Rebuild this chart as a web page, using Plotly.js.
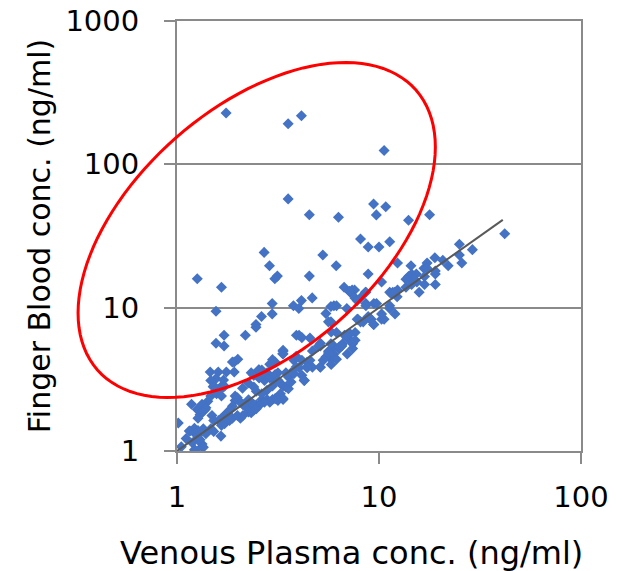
<!DOCTYPE html>
<html>
<head>
<meta charset="utf-8">
<script src="https://cdn.plot.ly/plotly-3.0.1.min.js"></script>
<style>html,body{margin:0;padding:0;background:#fff;}#chart{width:626px;height:571px;}</style>
</head>
<body>
<div id="chart"></div>
<script>
// Venous plasma concentration (ng/ml)
const venousPlasma = [
1.75,3.55,4.13,10.6,3.55,4.52,6.3,9.4,10.8,9.7,14.0,17.8,8.1,8.84,10.0,11.3,5.27,6.14,2.70,2.87,
3.14,3.05,4.52,1.26,1.66,1.56,2.96,2.96,2.62,2.46,2.46,2.18,1.71,1.56,1.71,3.77,4.13,4.01,4.67,6.72,
7.36,7.57,7.2,8.84,10.3,12.35,14.4,18.9,22.0,16.7,17.3,41.9,25.0,29.0,25.0,25.7,20.7,17.3,19.0,19.0,
14.5,15.3,16.8,15.4,16.8,19.0,15.8,14.3,14.0,14.9,13.6,14.5,8.61,8.1,8.61,8.61,9.43,9.72,5.98,6.16,
11.3,11.7,11.3,12.0,7.86,8.1,8.35,9.15,9.43,10.3,7.62,6.75,6.16,5.98,6.35,6.54,5.8,5.98,5.8,11.6,
12.3,10.6,8.95,7.4,7.4,6.6,5.46,5.78,5.78,7.14,3.90,4.02,4.55,5.13,3.35,5.62,5.8,6.16,6.96,6.96,
5.8,5.13,4.68,4.41,4.27,3.46,3.56,3.67,3.16,3.06,3.25,3.35,2.97,2.63,2.79,2.88,2.71,2.55,2.40,2.33,
2.47,2.63,2.79,2.97,3.35,2.33,2.40,2.33,2.47,1.015,1.46,1.60,1.755,1.92,1.92,1.51,1.65,1.56,1.70,1.18,
1.26,1.33,1.38,1.42,1.30,1.15,1.22,1.30,1.26,1.11,1.22,1.33,1.05,1.65,1.33,2.0,1.88,5.62,5.13,3.35,
3.06,2.55,1.27,1.35,1.39,1.47,1.52,1.57,1.66,1.72,1.47,1.57,1.66,1.94,1.94,1.99,1.88,2.06,2.12,2.19,
2.33,2.40,2.26,1.49,1.52,1.61,1.66,1.72,1.77,1.82,1.66,1.72,1.82,1.88,1.99,2.06,2.12,1.52,1.47,1.35,
1.39,1.30,1.23,1.19,1.35,1.23,1.16,1.27,2.55,2.71,2.88,3.06,3.16,2.79,2.63,2.40,3.46,3.25,3.06,2.88,
2.71,2.55,2.47,2.26,2.88,3.35,2.97,4.15,4.02,3.79,4.15,4.41,4.55,4.68,5.0,5.29,5.46,5.62,6.35,7.4,
7.62,7.2,5.8,4.15,3.56,3.35,3.16,3.56,3.67,3.79,2.11,2.25,2.54,3.34,3.89,3.89,4.39,4.26,5.11,6.93,
7.6,7.8,8.57,7.8,6.52,6.93,8.84,9.4,10.3,11.3,11.96,12.35,13.6,5.78
];
// Finger blood concentration (ng/ml)
const fingerBlood = [
228,192,218,125,57.4,44.5,42.7,52.9,50.6,44.4,40.7,44.5,30.1,26.5,26.5,28.8,23.3,19.6,24.3,19.6,
16.6,15.9,16.6,15.9,13.9,9.45,10.7,9.05,8.68,7.63,7.31,6.42,6.42,5.65,5.41,10.3,11.2,9.87,11.7,13.9,
13.3,13.3,12.8,17.2,15.1,20.5,19.6,22.3,19.6,18.8,20.5,32.8,27.7,25.4,23.3,20.5,21.4,18.8,18.0,17.2,
17.2,17.2,16.5,15.1,14.5,14.5,12.8,15.8,16.5,15.8,13.9,14.5,12.8,11.7,10.7,10.3,10.7,10.7,10.3,10.3,
12.8,12.8,9.87,9.05,8.31,7.96,7.96,8.31,7.63,8.31,6.71,6.42,6.71,5.41,5.18,5.41,4.96,4.75,4.36,12.4,
11.9,8.3,8.4,5.6,5.18,5.6,9.1,7.96,5.6,13.0,6.42,6.42,6.15,5.65,4.75,4.96,4.56,4.36,4.75,6.15,
4.01,3.84,3.84,4.18,3.10,3.52,3.37,3.52,3.52,3.10,2.97,2.84,2.84,3.67,3.52,3.23,3.10,3.23,3.37,3.52,
2.61,2.29,2.29,2.29,2.29,2.19,1.93,1.85,2.10,1.57,3.56,3.56,3.56,3.56,4.18,2.81,2.81,3.20,3.13,2.12,
1.95,2.12,1.95,2.22,1.79,1.38,1.44,1.33,1.22,1.22,1.02,1.07,1.07,1.27,1.12,4.36,4.18,7.96,5.41,4.96,
4.18,3.67,1.69,1.90,2.0,3.10,2.83,2.72,2.72,2.83,2.42,2.51,2.42,2.42,2.25,2.35,2.05,2.19,2.11,2.02,
1.94,2.11,2.28,1.77,1.63,1.63,1.69,1.77,1.85,1.92,1.51,1.55,1.63,1.69,1.77,1.69,1.77,1.37,1.43,1.43,
1.32,1.20,1.32,1.14,1.06,1.01,1.38,1.39,3.28,3.42,3.28,3.42,3.11,2.65,2.51,2.80,2.80,2.51,2.32,2.19,
2.19,2.08,1.97,1.87,4.03,5.04,4.34,6.18,3.81,4.29,4.29,3.81,4.29,4.99,5.38,4.29,4.53,4.82,5.31,5.71,
5.92,6.58,6.77,3.37,2.72,2.32,2.25,3.28,3.03,3.46,2.74,2.98,3.69,4.77,4.58,3.85,3.85,3.11,3.85,9.87,
11.7,11.2,12.8,8.31,5.41,6.42,8.68,7.63,9.05,10.3,12.8,13.3,15.8,10.2
];
// Line of identity
const identityX = [1, 41];
const identityY = [1, 41];
const xTickVals = [1, 10, 100];
const yTickVals = [1, 10, 100, 1000];

const W = 626, H = 571;
const M = {l: 177, r: 45, t: 21, b: 120};
const plotW = W - M.l - M.r, plotH = H - M.t - M.b;

// Highlight ellipse (pixel geometry)
const ell = {cx: 256.7, cy: 230, a: 212, b: 122.6, deg: 41.3, n: 120};
function ellipsePath() {
  const th = ell.deg * Math.PI / 180;
  let p = '';
  for (let i = 0; i <= ell.n; i++) {
    const t = 2 * Math.PI * i / ell.n;
    const ux = ell.a * Math.cos(t), uy = ell.b * Math.sin(t);
    const px = ell.cx + ux * Math.cos(th) - uy * Math.sin(th);
    const py = ell.cy - (ux * Math.sin(th) + uy * Math.cos(th));
    const xp = (px - M.l) / plotW;
    const yp = (H - M.b - py) / plotH;
    p += (i === 0 ? 'M' : 'L') + xp.toFixed(5) + ',' + yp.toFixed(5);
  }
  return p + 'Z';
}

const font = 'DejaVu Sans, Verdana, sans-serif';
const gray = '#8a8a8a';

const traces = [
  {x: venousPlasma, y: fingerBlood, type: 'scatter', mode: 'markers',
   marker: {symbol: 'diamond', size: 8.5, color: '#4472C4'}, hoverinfo: 'x+y'},
  {x: identityX, y: identityY, type: 'scatter', mode: 'lines',
   line: {color: '#595959', width: 2}, hoverinfo: 'skip'}
];

const layout = {
  width: W, height: H, margin: M, showlegend: false,
  paper_bgcolor: '#fff', plot_bgcolor: '#fff',
  font: {family: font, color: '#000'},
  xaxis: {type: 'log', range: [0, 2], tickvals: xTickVals, ticktext: xTickVals.map(String),
    ticks: 'outside', ticklen: 11, tickwidth: 2, tickcolor: gray,
    showline: true, linecolor: gray, linewidth: 2, mirror: true,
    showgrid: false, zeroline: false, ticklabelstandoff: 8,
    tickfont: {family: font, size: 29, color: '#000'}},
  yaxis: {type: 'log', range: [0, 3], tickvals: yTickVals, ticktext: yTickVals.map(String),
    ticks: 'outside', ticklen: 11, tickwidth: 2, tickcolor: gray,
    showline: true, linecolor: gray, linewidth: 2, mirror: true,
    showgrid: true, gridcolor: gray, gridwidth: 2, zeroline: false, ticklabelstandoff: 19,
    tickfont: {family: font, size: 29, color: '#000'},
    title: {text: 'Finger Blood conc. (ng/ml)', font: {family: font, size: 30, color: '#000'}, standoff: 6}},
  annotations: [{
    text: 'Venous Plasma conc. (ng/ml)', xref: 'paper', yref: 'paper',
    x: (351.5 - M.l) / plotW, y: (H - M.b - 553) / plotH, xanchor: 'center', yanchor: 'middle',
    showarrow: false, font: {family: font, size: 32, color: '#000'}
  }],
  shapes: [{type: 'path', xref: 'paper', yref: 'paper', path: ellipsePath(),
    line: {color: '#ff0000', width: 3}, fillcolor: 'rgba(0,0,0,0)', layer: 'above'}]
};

Plotly.newPlot('chart', traces, layout, {staticPlot: true, displayModeBar: false});
</script>
</body>
</html>
